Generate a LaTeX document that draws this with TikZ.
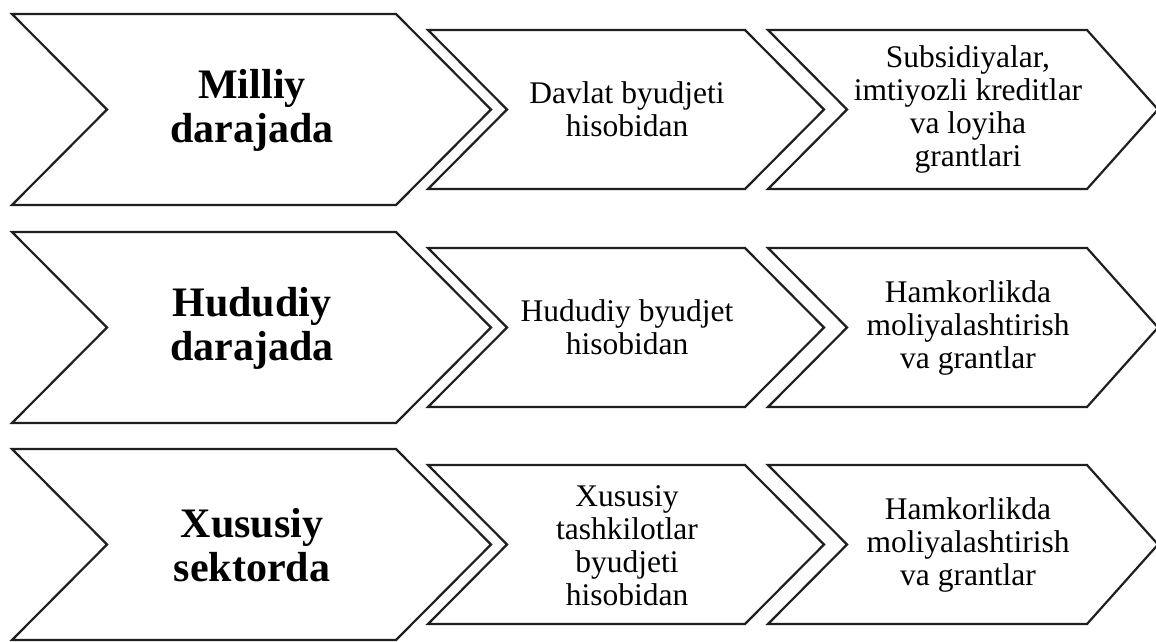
\documentclass[tikz,border=0pt]{standalone}
\usepackage{fontspec}
\setmainfont{Liberation Serif}
\begin{document}
\begin{tikzpicture}[x=1pt,y=-1pt,
  chev/.style={draw=black!88, line width=2.2pt, line join=miter, fill=white},
  bigtxt/.style={font=\fontsize{42}{44}\selectfont\bfseries, align=center, inner sep=0pt},
  smalltxt/.style={font=\fontsize{31.5}{33}\selectfont, align=center, inner sep=0pt}]
\useasboundingbox (0,0) rectangle (1156,641);
\foreach \dy/\r in {0/1,218/2,435/3}{
  \begin{scope}[yshift=-\dy pt]
    \draw[chev] (12,14) -- (396,14) -- (491,109.5) -- (396,205) -- (12,205) -- (107,109.5) -- cycle;
    \draw[chev] (428,30) -- (745,30) -- (824,109.5) -- (745,189) -- (428,189) -- (507,109.5) -- cycle;
    \draw[chev] (768,30) -- (1087,30) -- (1158,109.5) -- (1087,189) -- (768,189) -- (847,109.5) -- cycle;
  \end{scope}
}
% row 1
\node[bigtxt]   (lvl1) at (252,110) {Milliy\\darajada};
\node[smalltxt] (src1) at (627,109) {Davlat byudjeti\\hisobidan};
\node[smalltxt] (fin1) at (968,109) {Subsidiyalar,\\imtiyozli kreditlar\\va loyiha\\grantlari};
% row 2
\node[bigtxt]   (lvl2) at (252,328) {Hududiy\\darajada};
\node[smalltxt] (src2) at (627,327) {Hududiy byudjet\\hisobidan};
\node[smalltxt] (fin2) at (968,328) {Hamkorlikda\\moliyalashtirish\\va grantlar};
% row 3
\node[bigtxt]   (lvl3) at (252,545) {Xususiy\\sektorda};
\node[smalltxt] (src3) at (627,546) {Xususiy\\tashkilotlar\\byudjeti\\hisobidan};
\node[smalltxt] (fin3) at (968,545) {Hamkorlikda\\moliyalashtirish\\va grantlar};
\end{tikzpicture}
\end{document}
